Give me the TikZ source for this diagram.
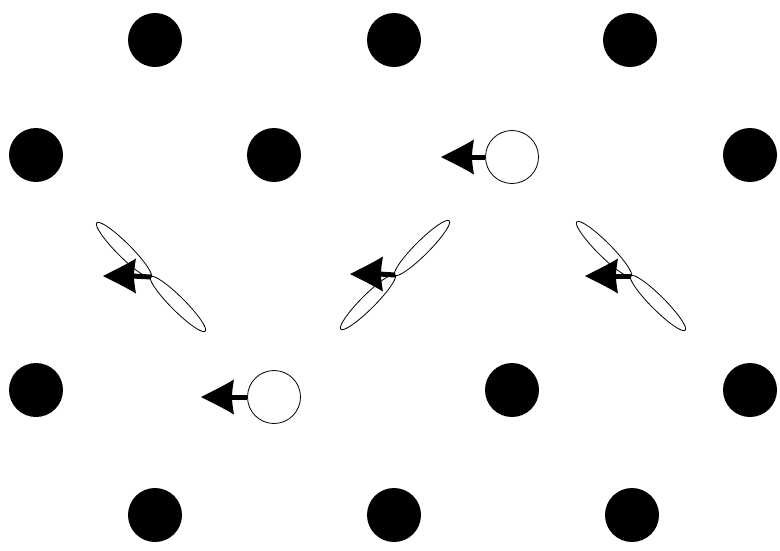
\documentclass[tikz,border=0pt]{standalone}
\usetikzlibrary{shapes.geometric}
\begin{document}
\begin{tikzpicture}[x=1pt,y=-1pt,
  dot/.style={circle,fill=black,draw=none,minimum size=54pt,inner sep=0pt},
  hole/.style={circle,draw=black,line width=0.8pt,fill=white,minimum size=53pt,inner sep=0pt},
  lobe/.style={ellipse,draw=black,line width=0.8pt,minimum width=77pt,minimum height=14pt,inner sep=0pt},
  shaft/.style={line width=5pt},
  headpic/.pic={\fill[black] (0,0) .. controls (12,-6) and (24,-12) .. (33,-17.5)
     .. controls (31.5,-9) and (31,-4) .. (31,0) .. controls (31,4) and (31.5,9) .. (33,17.5)
     .. controls (24,12) and (12,6) .. (0,0) -- cycle;}]
\useasboundingbox (0,0) rectangle (780,550);
% black dots
\node[dot] (a1) at (155,40) {};
\node[dot] (a2) at (394,40) {};
\node[dot] (a3) at (630,40) {};
\node[dot] (b1) at (36,155) {};
\node[dot] (b2) at (274,155) {};
\node[dot] (b4) at (750,155) {};
\node[dot] (c1) at (36,390) {};
\node[dot] (c3) at (512,390) {};
\node[dot] (c4) at (750,390) {};
\node[dot] (d1) at (155,515) {};
\node[dot] (d2) at (394,515) {};
\node[dot] (d3) at (632,515) {};
% open circles
\node[hole] (h1) at (512,157) {};
\node[hole] (h2) at (274,397) {};
\coordinate (t1) at (441,157);
\coordinate (t2) at (201,397);
\draw[shaft] (h1.west) -- ([xshift=29pt]t1);
\draw[shaft] (h2.west) -- ([xshift=29pt]t2);
\pic at (t1) {headpic};
\pic at (t2) {headpic};
% lobes
\coordinate (x1) at (151,277);
\coordinate (x2) at (395,275);
\coordinate (x3) at (631,276);
\node[lobe,rotate=-45] (l1a) at (124,250) {};
\node[lobe,rotate=-45] (l1b) at (178,304) {};
\node[lobe,rotate=45] (l2a) at (422,248) {};
\node[lobe,rotate=45] (l2b) at (368,302) {};
\node[lobe,rotate=-45] (l3a) at (604,249) {};
\node[lobe,rotate=-45] (l3b) at (658,303) {};
\coordinate (u1) at (103,276);
\coordinate (u2) at (350,274);
\coordinate (u3) at (585,276);
\draw[shaft] (x1) -- ([xshift=29pt]u1);
\draw[shaft] (x2) -- ([xshift=29pt]u2);
\draw[shaft] (x3) -- ([xshift=29pt]u3);
\pic at (u1) {headpic};
\pic at (u2) {headpic};
\pic at (u3) {headpic};
\end{tikzpicture}
\end{document}
